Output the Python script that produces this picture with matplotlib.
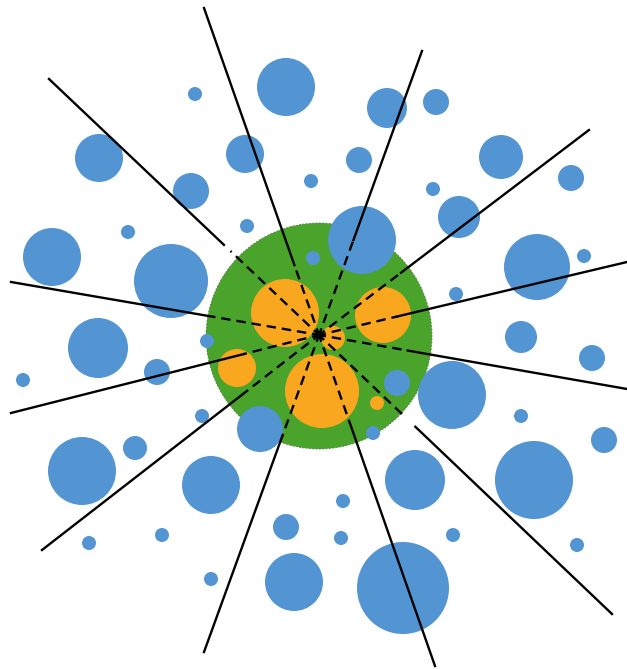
import numpy as np
import matplotlib
matplotlib.use("Agg")
from matplotlib import pyplot as plt
from matplotlib.patches import Circle

BLUE = "#5394d3"
ORANGE = "#f8a71e"
GREEN = "#4aa32a"

# blue circles (x, y, radius) in picture pixels
blue_x = [286, 195, 387, 436, 99, 245, 359, 501, 571, 311, 191, 433, 459, 362, 247, 128,
          52, 171, 537, 584, 313, 456, 98, 521, 592, 207, 157, 23, 397, 452, 373, 260,
          202, 135, 82, 521, 604, 211, 415, 534, 343, 286, 341, 453, 162, 89, 577, 211,
          294, 403]
blue_y = [87, 94, 108, 102, 158, 154, 160, 157, 178, 181, 191, 189, 217, 240, 226, 232,
          257, 281, 267, 256, 258, 294, 348, 337, 358, 341, 372, 380, 383, 395, 433, 429,
          416, 448, 471, 416, 440, 485, 480, 480, 501, 527, 538, 535, 535, 543, 545, 579,
          582, 588]
blue_r = [29, 7, 20, 13, 24, 19, 13, 22, 13, 7, 18, 7, 21, 34, 7, 7,
          29, 37, 33, 7, 7, 7, 30, 16, 13, 7, 13, 7, 13, 34, 7, 23,
          7, 12, 34, 7, 13, 29, 30, 39, 7, 13, 7, 7, 7, 7, 7, 7,
          29, 46]

# orange circles inside the green disc
orange_x = [285, 383, 333, 237, 322, 377]
orange_y = [313, 315, 338, 368, 391, 403]
orange_r = [34, 28, 12, 19, 37, 7]

# green disc
green_x, green_y, green_r = 319, 336, 113

# rays: common centre, outer end points, where dashes stop / solid starts
ray_cx, ray_cy = 319, 335
ray_end_x = [204, 422, 589, 627, 627, 612, 435, 204, 42, 11, 11, 49]
ray_end_y = [8, 51, 130, 262, 389, 614, 666, 652, 550, 413, 282, 79]
dash_r = [74, 101, 103, 81, 90, 120, 94, 108, 97, 78, 108, 122]
solid_r = [74, 101, 103, 81, 90, 133, 94, 108, 97, 78, 108, 131]

fig = plt.figure(figsize=(6.27, 6.69), dpi=100)
ax = fig.add_axes([0, 0, 1, 1])
ax.set_xlim(0, 627)
ax.set_ylim(669, 0)
ax.set_aspect("auto")
ax.axis("off")

ax.add_patch(Circle((green_x, green_y), green_r, facecolor=GREEN,
                    edgecolor="#5a7a50", lw=0.6, ls=(0, (2, 2)), zorder=1))

for x, y, r in zip(orange_x, orange_y, orange_r):
    ax.add_patch(Circle((x, y), r, facecolor=ORANGE, edgecolor="none", zorder=2))

for x, y, r in zip(blue_x, blue_y, blue_r):
    ax.add_patch(Circle((x, y), r, facecolor=BLUE, edgecolor="none", zorder=2))

for ex, ey, rd, rs in zip(ray_end_x, ray_end_y, dash_r, solid_r):
    dx, dy = ex - ray_cx, ey - ray_cy
    length = np.hypot(dx, dy)
    ux, uy = dx / length, dy / length
    ax.plot([ray_cx, ray_cx + ux * rd], [ray_cy, ray_cy + uy * rd],
            color="black", lw=1.7, ls=(1, (4, 2.5)), zorder=3)
    ax.plot([ray_cx + ux * rs, ex], [ray_cy + uy * rs, ey],
            color="black", lw=1.7, zorder=3)

fig.savefig("out.png", dpi=100, facecolor="white")
